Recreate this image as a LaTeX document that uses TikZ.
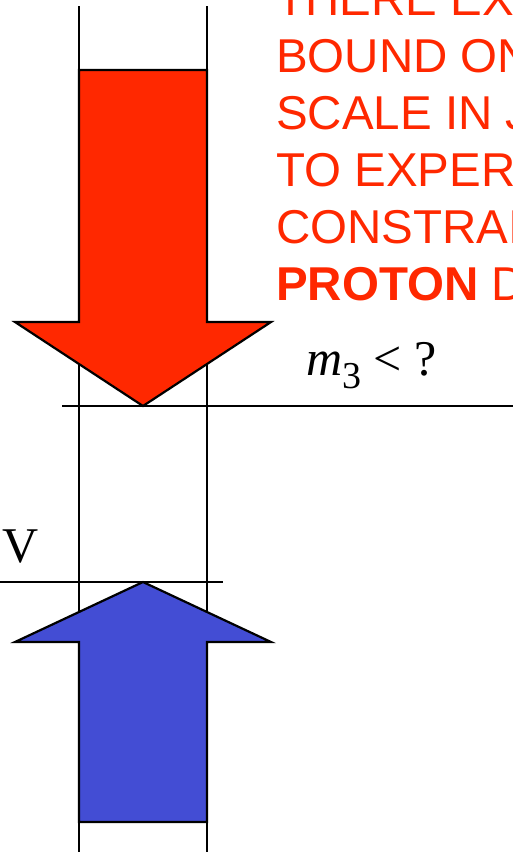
\documentclass[tikz,border=0pt]{standalone}
\usepackage{xcolor}
\usepackage{fontspec}
\setmainfont{Liberation Serif}
\newfontfamily\arialfont{Liberation Sans}
\usepackage{tikz}

\definecolor{decayred}{RGB}{255,40,0}
\definecolor{boundblue}{RGB}{67,77,212}

\tikzset{
    rail/.style={line width=2.4pt},
    scaleline/.style={line width=1.8pt},
    bigarrow/.style={draw=black, line width=2.2pt, line join=miter},
    redtext/.style={anchor=base west, inner sep=0pt, text=decayred,
        font=\arialfont\fontsize{47.5}{57}\selectfont},
    mathtext/.style={anchor=base west, inner sep=0pt,
        font=\fontsize{50}{60}\selectfont}
}

\begin{document}
\begin{tikzpicture}[x=1pt, y=-1pt]
        \clip (0,0) rectangle (513,852);

        % the two rails
        \coordinate (LT) at (79,6);
        \coordinate (LB) at (79,852);
        \coordinate (RT) at (207,6);
        \coordinate (RB) at (207,852);
        \draw[rail] (LT) -- (LB);
        \draw[rail] (RT) -- (RB);

        % scale lines
        \coordinate (ML) at (62,406);
        \coordinate (MR) at (513,406);
        \coordinate (GL) at (0,582);
        \coordinate (GR) at (223,582);
        \draw[scaleline] (ML) -- (MR);
        \draw[scaleline] (GL) -- (GR);

        % red arrow (pointing down)
        \filldraw[bigarrow, fill=decayred] (79,70) -- (207,70) -- (207,322) -- (271,322)
            -- (143,406) -- (15,322) -- (79,322) -- cycle;

        % blue arrow (pointing up)
        \filldraw[bigarrow, fill=boundblue] (79,822) -- (207,822) -- (207,642) -- (271,642)
            -- (143,582) -- (15,642) -- (79,642) -- cycle;

        % labels
        \node[mathtext] (m3) at (306,375) {\itshape m\/\upshape\raisebox{-13pt}{\fontsize{38}{40}\selectfont 3} < ?};
        \node[mathtext] (V) at (2,562) {V};

        \node[redtext] (L1) at (276,15) {THERE EX};
        \node[redtext] (L2) at (276,72) {BOUND ON};
        \node[redtext] (L3) at (276,129) {SCALE IN J};
        \node[redtext] (L4) at (276,186) {TO EXPER};
        \node[redtext] (L5) at (276,243) {CONSTRAI};
        \node[redtext] (L6) at (276,300) {\textbf{PROTON} D};
    \end{tikzpicture}
\end{document}
